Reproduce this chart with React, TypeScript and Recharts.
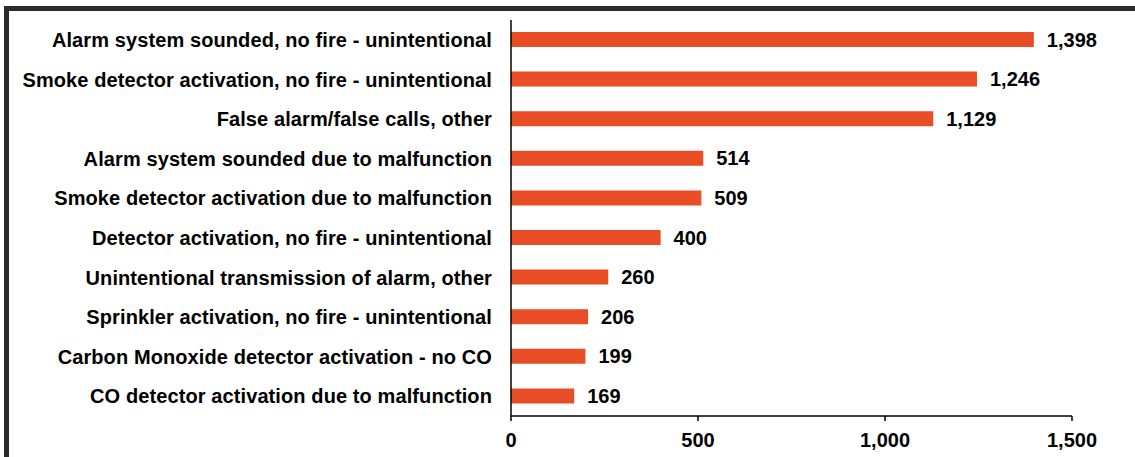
import React from "react";
import { BarChart, Bar, XAxis, YAxis, LabelList } from "recharts";

const categories = [
  "Alarm system sounded, no fire - unintentional",
  "Smoke detector activation, no fire - unintentional",
  "False alarm/false calls, other",
  "Alarm system sounded due to malfunction",
  "Smoke detector activation due to malfunction",
  "Detector activation, no fire - unintentional",
  "Unintentional transmission of alarm, other",
  "Sprinkler activation, no fire - unintentional",
  "Carbon Monoxide detector activation - no CO",
  "CO detector activation due to malfunction",
];
const values = [1398, 1246, 1129, 514, 509, 400, 260, 206, 199, 169];
const xTicks = [0, 500, 1000, 1500];

const data = categories.map((name, i) => ({ name, value: values[i] }));

const fmt = (v: number) => Number(v).toLocaleString("en-US");

const FONT = "'Liberation Sans', Arial, sans-serif";

export default function App() {
  return (
    <div
      style={{
        position: "absolute",
        left: 0,
        top: 0,
        width: 1135,
        height: 457,
        overflow: "hidden",
        background: "#fff",
        fontFamily: FONT,
      }}
    >
      <div
        style={{
          position: "absolute",
          left: 4,
          top: 6,
          width: 2000,
          height: 2000,
          borderLeft: "5px solid #2b2b2b",
          borderTop: "5px solid #2b2b2b",
          boxSizing: "border-box",
        }}
      />
      <div style={{ position: "absolute", left: 0, top: 0 }}>
        <BarChart
          width={1135}
          height={457}
          data={data}
          layout="vertical"
          margin={{ top: 20, right: 63, bottom: 11, left: 0 }}
          barCategoryGap={0}
        >
          <XAxis
            type="number"
            domain={[0, 1500]}
            ticks={xTicks}
            tickFormatter={fmt}
            axisLine={{ stroke: "#000", strokeWidth: 1.5 }}
            tickLine={{ stroke: "#000", strokeWidth: 1.5 }}
            tickSize={5}
            tickMargin={12}
            height={30}
            tick={{ fill: "#000", fontSize: 20, fontWeight: 700, fontFamily: FONT }}
          />
          <YAxis
            type="category"
            dataKey="name"
            width={511}
            axisLine={{ stroke: "#000", strokeWidth: 1.5 }}
            tickLine={false}
            tickSize={0}
            tickMargin={19}
            interval={0}
            tick={{ fill: "#000", fontSize: 20, fontWeight: 700, fontFamily: FONT, letterSpacing: 0.1 }}
          />
          <Bar dataKey="value" fill="#E84D25" barSize={15} isAnimationActive={false}>
            <LabelList
              dataKey="value"
              position="right"
              offset={13}
              formatter={fmt}
              style={{ fill: "#000", fontSize: 20, fontWeight: 700, fontFamily: FONT }}
            />
          </Bar>
        </BarChart>
      </div>
    </div>
  );
}
